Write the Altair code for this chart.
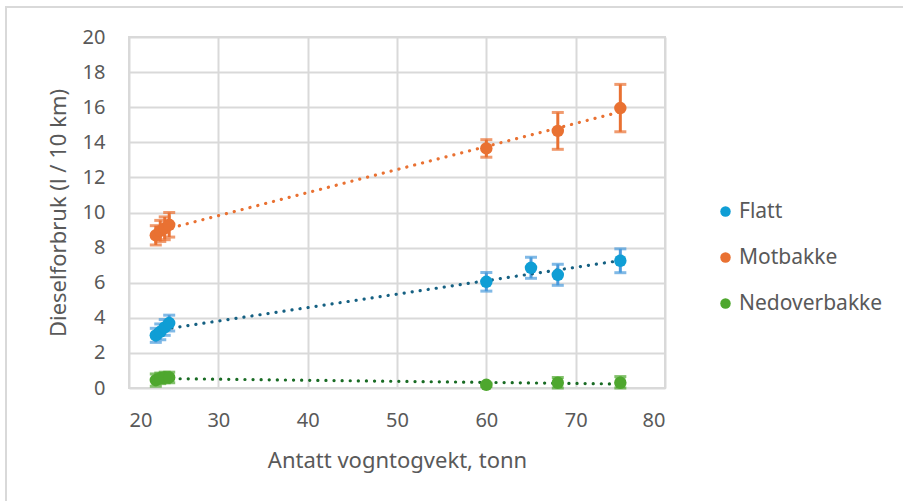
import altair as alt
import pandas as pd

# Vehicle weight (tonnes) per measured run, one list per road type
flatt_x = [23.0, 23.5, 24.0, 24.5, 60.0, 65.0, 68.0, 75.0]
flatt_y = [3.0, 3.2, 3.45, 3.7, 6.05, 6.85, 6.45, 7.25]
flatt_err = [0.4, 0.45, 0.45, 0.45, 0.53, 0.6, 0.6, 0.68]

mot_x = [23.0, 23.5, 24.0, 24.5, 60.0, 68.0, 75.0]
mot_y = [8.7, 8.95, 9.1, 9.3, 13.65, 14.65, 15.95]
mot_err = [0.55, 0.6, 0.65, 0.7, 0.5, 1.05, 1.35]

ned_x = [23.0, 23.5, 24.0, 24.5, 60.0, 68.0, 75.0]
ned_y = [0.45, 0.55, 0.6, 0.6, 0.18, 0.3, 0.3]
ned_err = [0.35, 0.3, 0.3, 0.3, 0.1, 0.3, 0.35]

series = ["Flatt", "Motbakke", "Nedoverbakke"]
point_colors = ["#0F9ED5", "#E97132", "#4EA72E"]
bar_colors = ["#4A9BDC", "#E97132", "#4EA72E"]
trend_colors = ["#156082", "#E97132", "#196B24"]

x_ticks = [20, 30, 40, 50, 60, 70, 80]
y_ticks = [0, 2, 4, 6, 8, 10, 12, 14, 16, 18, 20]

FONT = "Noto Sans"
TEXT = "#595959"
GRID = "#D9D9D9"

rows = []
for name, xs, ys, es in [
    ("Flatt", flatt_x, flatt_y, flatt_err),
    ("Motbakke", mot_x, mot_y, mot_err),
    ("Nedoverbakke", ned_x, ned_y, ned_err),
]:
    for x, y, e in zip(xs, ys, es):
        rows.append({"serie": name, "vekt": x, "forbruk": y,
                     "lo": max(y - e, 0), "hi": y + e})
df = pd.DataFrame(rows)

x_scale = alt.Scale(domain=[20, 80], nice=False)
x_axis = alt.Axis(values=x_ticks, title="Antatt vogntogvekt, tonn",
                  grid=True, ticks=False, domain=False, labelOverlap=False,
                  labelPadding=22, titlePadding=20)
y_scale = alt.Scale(domain=[0, 20], nice=False)
y_axis = alt.Axis(values=y_ticks, title="Dieselforbruk (l / 10 km)",
                  grid=True, ticks=False, domain=False, labelOverlap=False,
                  tickCount=11, labelPadding=24, titlePadding=12)


def xq(field):
    return alt.X(field, scale=x_scale, axis=x_axis)


def yq(field):
    return alt.Y(field, scale=y_scale, axis=y_axis)


base = alt.Chart(df)

# outer chart frame (right and bottom edges fall outside the canvas)
frame = alt.Chart(pd.DataFrame({"k": [0]})).mark_rect(
    fill=None, stroke=GRID, strokeWidth=2
).encode(x=alt.value(-123), x2=alt.value(820), y=alt.value(-30), y2=alt.value(520))

bar_scale = alt.Scale(domain=series, range=bar_colors)
rules = base.mark_rule(strokeWidth=3).encode(
    x=xq("vekt:Q"), y=yq("lo:Q"), y2="hi:Q",
    color=alt.Color("serie:N", scale=bar_scale, legend=None),
)
caps_hi = base.mark_tick(thickness=3, size=12, orient="horizontal").encode(
    x=xq("vekt:Q"), y=yq("hi:Q"),
    color=alt.Color("serie:N", scale=bar_scale, legend=None))
caps_lo = base.mark_tick(thickness=3, size=12, orient="horizontal").encode(
    x=xq("vekt:Q"), y=yq("lo:Q"),
    color=alt.Color("serie:N", scale=bar_scale, legend=None))

points = base.mark_circle(size=155, opacity=1).encode(
    x=xq("vekt:Q"),
    y=yq("forbruk:Q"),
    color=alt.Color("serie:N",
                    scale=alt.Scale(domain=series, range=point_colors),
                    legend=alt.Legend(title=None, orient="none",
                                      legendX=586, legendY=164,
                                      symbolType="circle", symbolSize=110,
                                      labelFont=FONT, labelFontSize=21,
                                      labelColor=TEXT, rowPadding=24,
                                      labelOffset=3)),
)

# linear trendlines, dotted
trends = []
for name, col in zip(series, trend_colors):
    t = base.transform_filter(alt.datum.serie == name).transform_regression(
        "vekt", "forbruk"
    ).mark_line(color=col, strokeWidth=3.2, strokeDash=[0.1, 8],
                strokeCap="round").encode(x=xq("vekt:Q"), y=yq("forbruk:Q"))
    trends.append(t)

chart = alt.layer(frame, rules, caps_hi, caps_lo, *trends, points).resolve_scale(
    color="independent"
).properties(
    width=536, height=351,
    autosize=alt.AutoSizeParams(type="none"),
    padding={"left": 129, "top": 37, "right": 238, "bottom": 113},
).configure_view(
    stroke=GRID, strokeWidth=2
).configure_axis(
    gridColor=GRID, gridWidth=2,
    labelFont=FONT, labelFontSize=20, labelColor=TEXT,
    titleFont=FONT, titleFontSize=22, titleColor=TEXT, titleFontWeight="normal",
)

chart.save("out.html", embed_options={"renderer": "svg", "actions": False})
